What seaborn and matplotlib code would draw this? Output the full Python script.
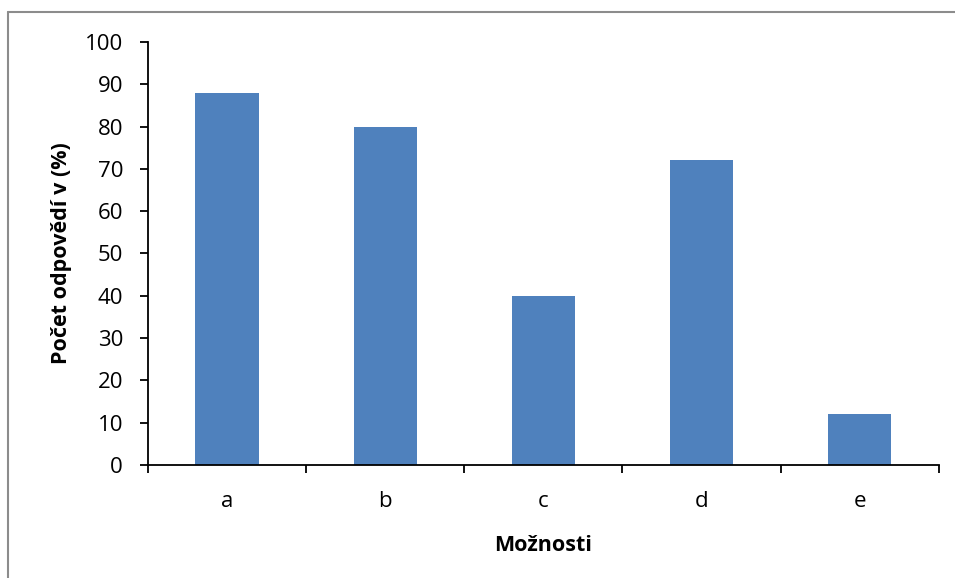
import numpy as np
import pandas as pd
import matplotlib
matplotlib.use("Agg")
import matplotlib.pyplot as plt
from matplotlib.lines import Line2D
import seaborn as sns

# Data
moznosti = ["a", "b", "c", "d", "e"]
procenta = [88, 80, 40, 72, 12]
y_ticks = list(range(0, 101, 10))

df = pd.DataFrame({"Možnosti": moznosti, "Procenta": procenta})

sns.set_theme(style="white")
plt.rcParams["font.family"] = ["Open Sans", "DejaVu Sans"]

fig = plt.figure(figsize=(9.55, 5.78), dpi=100)
ax = fig.add_axes([0.155, 0.1955, 0.828, 0.732])

sns.barplot(data=df, x="Možnosti", y="Procenta", color="#4F81BD",
            saturation=1, width=0.4, linewidth=0, ax=ax)

ax.set_xlim(-0.5, len(moznosti) - 0.5)
ax.set_ylim(0, 100)
ax.set_yticks(y_ticks)
ax.tick_params(axis="y", direction="out", length=6, width=1.3, color="black",
               labelsize=16, pad=12, left=True, labelcolor="black")
ax.tick_params(axis="x", which="major", length=0, labelsize=16, pad=19,
               labelcolor="black")
ax.set_xticks(np.arange(-0.5, len(moznosti)), minor=True)
ax.tick_params(axis="x", which="minor", direction="out", length=6, width=1.3,
               color="black", bottom=True)

for s in ["top", "right"]:
    ax.spines[s].set_visible(False)
for s in ["left", "bottom"]:
    ax.spines[s].set_color("black")
    ax.spines[s].set_linewidth(1.3)

ax.set_xlabel("Možnosti", fontsize=15.5, fontweight="bold", labelpad=16,
              color="black")
ax.set_ylabel("Počet odpovědí v (%)", fontsize=15.5, fontweight="bold",
              labelpad=9, color="black")

# outer chart frame (only left and top edges visible in the reference)
fig.add_artist(Line2D([8 / 955, 8 / 955], [0, 1 - 12 / 578],
                      transform=fig.transFigure, color="#8c8c8c", lw=1.5))
fig.add_artist(Line2D([8 / 955, 1], [1 - 12 / 578, 1 - 12 / 578],
                      transform=fig.transFigure, color="#8c8c8c", lw=1.5))

fig.savefig("out.png", dpi=100)
